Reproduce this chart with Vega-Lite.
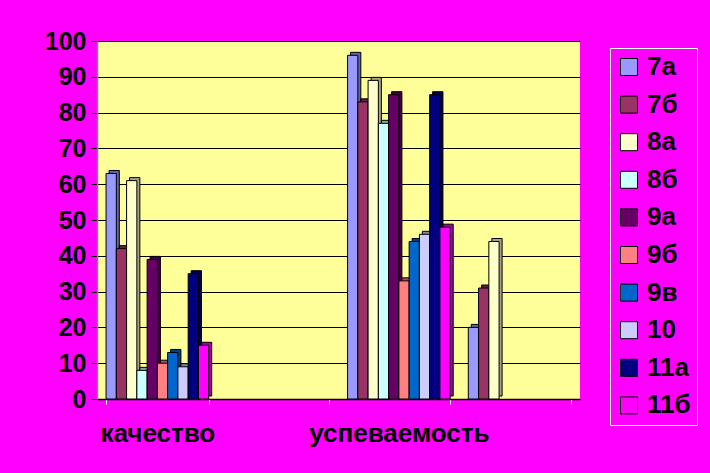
{
  "$schema": "https://vega.github.io/schema/vega-lite/v6.json",
  "width": 483,
  "height": 358,
  "autosize": {"type": "none"},
  "padding": {"left": 97, "top": 41, "right": 130, "bottom": 74},
  "background": "#FF00FF",
  "config": {
    "view": {"fill": "#FFFF99", "stroke": null},
    "font": "Liberation Sans"
  },
  "data": {
    "values": [
      {"показатель": "качество", "класс": "7а", "значение": 63},
      {"показатель": "качество", "класс": "7б", "значение": 42},
      {"показатель": "качество", "класс": "8а", "значение": 61},
      {"показатель": "качество", "класс": "8б", "значение": 8},
      {"показатель": "качество", "класс": "9а", "значение": 39},
      {"показатель": "качество", "класс": "9б", "значение": 10},
      {"показатель": "качество", "класс": "9в", "значение": 13},
      {"показатель": "качество", "класс": "10", "значение": 9},
      {"показатель": "качество", "класс": "11а", "значение": 35},
      {"показатель": "качество", "класс": "11б", "значение": 15},
      {"показатель": "успеваемость", "класс": "7а", "значение": 96},
      {"показатель": "успеваемость", "класс": "7б", "значение": 83},
      {"показатель": "успеваемость", "класс": "8а", "значение": 89},
      {"показатель": "успеваемость", "класс": "8б", "значение": 77},
      {"показатель": "успеваемость", "класс": "9а", "значение": 85},
      {"показатель": "успеваемость", "класс": "9б", "значение": 33},
      {"показатель": "успеваемость", "класс": "9в", "значение": 44},
      {"показатель": "успеваемость", "класс": "10", "значение": 46},
      {"показатель": "успеваемость", "класс": "11а", "значение": 85},
      {"показатель": "успеваемость", "класс": "11б", "значение": 48},
      {"показатель": "4", "класс": "7а", "значение": 20},
      {"показатель": "4", "класс": "7б", "значение": 31},
      {"показатель": "4", "класс": "8а", "значение": 44}
    ]
  },
  "encoding": {
    "x": {
      "field": "показатель",
      "type": "nominal",
      "scale": {"domain": ["качество", "2", "успеваемость", "4"], "paddingInner": 0.15, "paddingOuter": 0.075},
      "axis": {
        "title": null,
        "labelAngle": 0,
        "labelExpr": "datum.value == 'качество' || datum.value == 'успеваемость' ? datum.label : ''",
        "labelFontSize": 26,
        "labelFontWeight": "bold",
        "labelColor": "black",
        "labelPadding": 16,
        "labelLimit": 400,
        "domainColor": "black",
        "domainWidth": 1.5,
        "ticks": true,
        "tickBand": "extent",
        "tickColor": "white",
        "tickSize": 5
      }
    },
    "y": {
      "field": "значение",
      "type": "quantitative",
      "scale": {"domain": [0, 100], "nice": false},
      "axis": {
        "title": null,
        "values": [0, 10, 20, 30, 40, 50, 60, 70, 80, 90, 100],
        "grid": true,
        "gridColor": "black",
        "gridWidth": 1,
        "domainColor": "#808080",
        "domainWidth": 1.5,
        "tickColor": "black",
        "tickSize": 6,
        "labelFontSize": 25,
        "labelFontWeight": "bold",
        "labelColor": "black",
        "labelPadding": 5
      }
    }
  },
  "resolve": {"scale": {"xOffset": "independent"}},
  "layer": [
    {
      "mark": {"type": "bar", "yOffset": -3, "y2Offset": -3, "stroke": "black", "strokeWidth": 1},
      "encoding": {
        "xOffset": {
          "field": "класс",
          "type": "nominal",
          "scale": {"domain": ["7а", "7б", "8а", "8б", "9а", "9б", "9в", "10", "11а", "11б"], "paddingInner": 0, "paddingOuter": 0, "range": [3, 105.64]}
        },
        "color": {
          "field": "класс",
          "type": "nominal",
          "scale": {
            "domain": ["7а", "7б", "8а", "8б", "9а", "9б", "9в", "10", "11а", "11б"],
            "range": ["#9999FF", "#993366", "#FFFFCC", "#CCFFFF", "#660066", "#FF8080", "#0066CC", "#CCCCFF", "#000080", "#FF00FF"]
          },
          "legend": {
            "title": null,
            "orient": "none",
            "legendX": 513,
            "legendY": 7,
            "direction": "vertical",
            "symbolType": "square",
            "symbolSize": 289,
            "symbolStrokeColor": "black",
            "symbolStrokeWidth": 1,
            "symbolOpacity": 1,
            "labelFontSize": 26,
            "labelFontWeight": "bold",
            "labelColor": "black",
            "labelOffset": 5,
            "rowPadding": 11.6,
            "padding": 6,
            "strokeColor": "white",
            "labelLimit": 200
          }
        }
      }
    },
    {
      "mark": {"type": "bar", "yOffset": -3, "y2Offset": -3, "fill": "black", "fillOpacity": 0.35, "strokeWidth": 0},
      "encoding": {
        "xOffset": {
          "field": "класс",
          "type": "nominal",
          "scale": {"domain": ["7а", "7б", "8а", "8б", "9а", "9б", "9в", "10", "11а", "11б"], "paddingInner": 0, "paddingOuter": 0, "range": [3, 105.64]}
        }
      }
    },
    {
      "mark": {"type": "bar", "stroke": "black", "strokeWidth": 1},
      "encoding": {
        "xOffset": {
          "field": "класс",
          "type": "nominal",
          "scale": {"domain": ["7а", "7б", "8а", "8б", "9а", "9б", "9в", "10", "11а", "11б"], "paddingInner": 0, "paddingOuter": 0}
        },
        "color": {"field": "класс", "type": "nominal"}
      }
    }
  ]
}
